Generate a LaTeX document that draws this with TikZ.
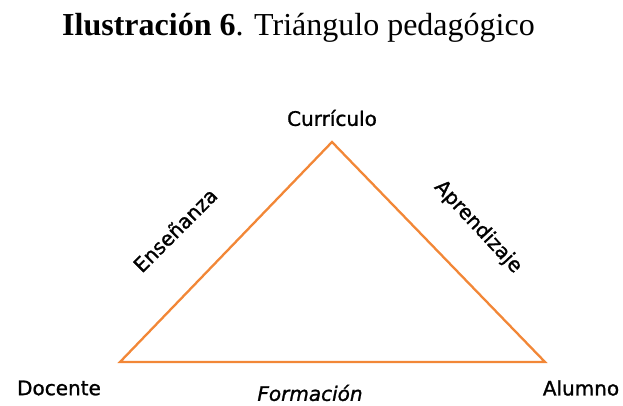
\documentclass[tikz,border=0pt]{standalone}
\usepackage{fontspec}
\setmainfont{Liberation Serif}
\newfontfamily\lblfont[FakeBold=1.2]{DejaVu Sans}
\definecolor{triorange}{RGB}{242,135,55}
\begin{document}
\begin{tikzpicture}[x=1pt,y=1pt,
  lbl/.style={font=\lblfont\fontsize{20}{24}\selectfont, inner sep=0pt},
  side/.style={draw=triorange, line width=2.3pt, line join=miter}]
\useasboundingbox (0,0) rectangle (623,405);
\node[anchor=base west, inner sep=0pt, font=\fontsize{32}{38}\selectfont] (title) at (62,369)
  {\textbf{Ilustración 6}. Triángulo pedagógico};
\coordinate (top) at (332,263);
\coordinate (bl) at (120,43);
\coordinate (br) at (545,43);
\draw[side] (top) -- (br) -- (bl) -- cycle;
\node[lbl] (curr) at (332,287) {Currículo};
\node[lbl] (doc) at (59,17) {Docente};
\node[lbl] (alu) at (581,17) {Alumno};
\node[lbl, font=\lblfont\itshape\fontsize{20}{24}\selectfont] (form) at (310,12) {Formación};
\node[lbl, rotate=45] (ens) at (175,175) {Enseñanza};
\node[lbl, rotate=-47] (apr) at (478,178) {Aprendizaje};
\end{tikzpicture}
\end{document}
